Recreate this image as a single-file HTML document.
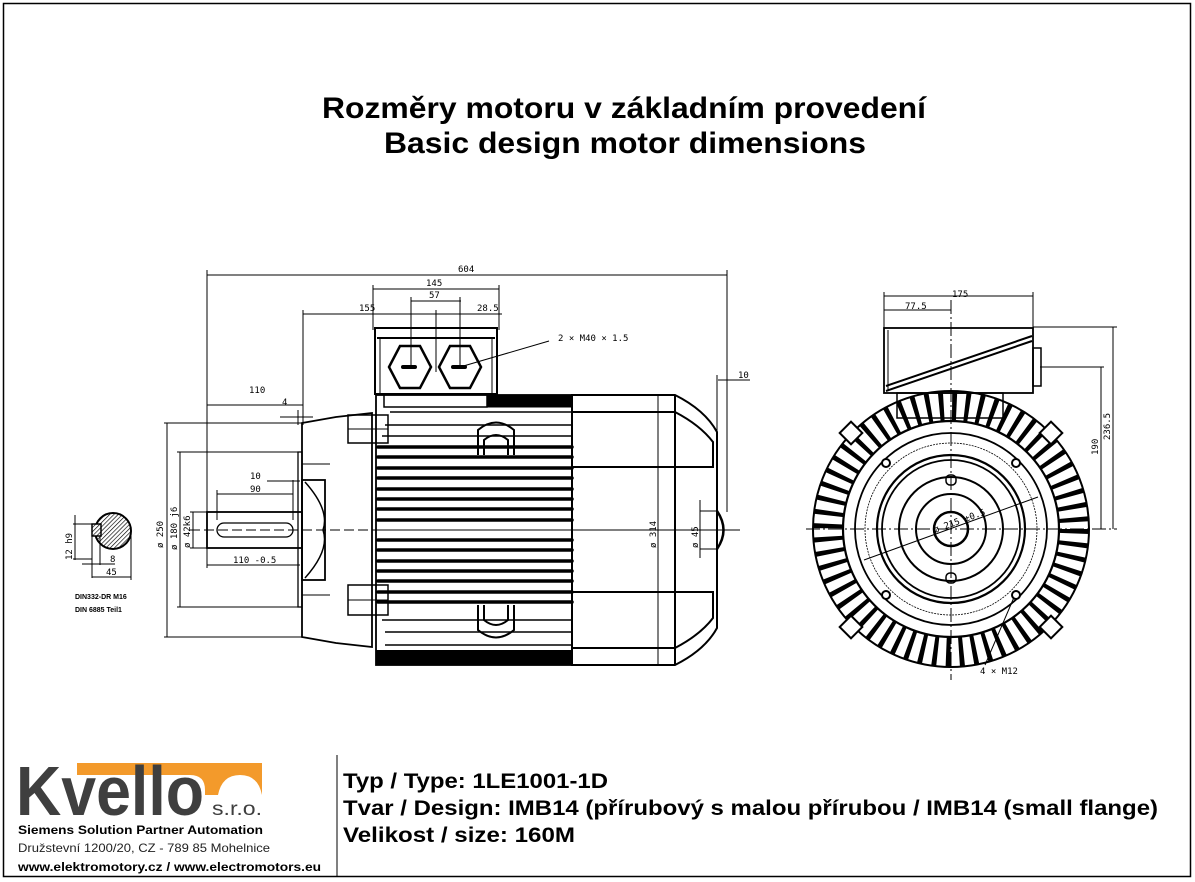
<!DOCTYPE html>
<html><head><meta charset="utf-8"><style>
html,body{margin:0;padding:0;background:#fff;}
svg{display:block;}
text{font-family:"Liberation Sans",sans-serif;}
.d{font-family:"DejaVu Sans Mono","Liberation Mono",monospace;font-size:9px;}
</style></head><body>
<svg width="1195" height="882" viewBox="0 0 1195 882" xmlns="http://www.w3.org/2000/svg">
<rect x="3.5" y="3.5" width="1187" height="873" fill="none" stroke="#000" stroke-width="1.5"/>
<text x="322" y="118" font-size="30" font-weight="bold" textLength="604" lengthAdjust="spacingAndGlyphs">Rozměry motoru v základním provedení</text>
<text x="384" y="153" font-size="30" font-weight="bold" textLength="482" lengthAdjust="spacingAndGlyphs">Basic design motor dimensions</text>

<g stroke="#000" fill="none" stroke-width="1">
<line x1="207" y1="275" x2="727" y2="275"/><line x1="207" y1="270" x2="207" y2="515"/><line x1="727" y1="270" x2="727" y2="512"/>
<line x1="373" y1="289" x2="499" y2="289"/><line x1="373" y1="285" x2="373" y2="330"/><line x1="499" y1="285" x2="499" y2="330"/>
<line x1="411" y1="301" x2="461" y2="301"/><line x1="411" y1="297" x2="411" y2="367"/><line x1="460" y1="297" x2="460" y2="367"/>
<line x1="303" y1="314" x2="502" y2="314"/><line x1="303" y1="310" x2="303" y2="425"/><line x1="436" y1="310" x2="436" y2="372"/>
<line x1="207" y1="405" x2="303" y2="405"/>
<line x1="280" y1="417" x2="313" y2="417"/><line x1="298" y1="410" x2="298" y2="425"/>
<line x1="718" y1="380" x2="750" y2="380"/><line x1="717" y1="375" x2="717" y2="530"/>
<line x1="460" y1="367" x2="549" y2="341"/>
<line x1="167" y1="423" x2="167" y2="637"/><line x1="164" y1="423" x2="302" y2="423"/><line x1="164" y1="637" x2="302" y2="637"/>
<line x1="180" y1="452" x2="180" y2="607"/><line x1="177" y1="452" x2="300" y2="452"/><line x1="177" y1="607" x2="300" y2="607"/>
<line x1="193" y1="512" x2="193" y2="548"/><line x1="190" y1="512" x2="207" y2="512"/><line x1="190" y1="548" x2="207" y2="548"/>
<line x1="217" y1="494" x2="293" y2="494"/><line x1="217" y1="490" x2="217" y2="520"/><line x1="293" y1="480" x2="293" y2="520"/>
<line x1="267" y1="481" x2="300" y2="481"/>
<line x1="207" y1="565" x2="300" y2="565"/><line x1="207" y1="548" x2="207" y2="568"/>
<line x1="190" y1="530" x2="372" y2="530" stroke-dasharray="10,4"/>
<line x1="372" y1="530" x2="740" y2="530"/>
<rect x="207" y="512" width="95" height="36" stroke-width="1.8"/>
<rect x="217" y="523" width="76" height="14" rx="7" stroke-width="1.3"/>
<path d="M302 423 L336 417 L372 413 L372 647 L336 643 L302 637 Z" stroke-width="1.8"/>
<rect x="298" y="452" width="4" height="155" stroke-width="1.3"/>
<rect x="302" y="480" width="23" height="100" stroke-width="1.8"/>
<path d="M305 482 Q330 510 323 530 Q330 550 305 578" stroke-width="1.5"/>
<line x1="302" y1="464" x2="330" y2="464"/><line x1="302" y1="595" x2="330" y2="595"/>
<rect x="348" y="415" width="40" height="28" stroke-width="1.5"/><line x1="348" y1="429" x2="388" y2="429"/>
<rect x="348" y="585" width="40" height="30" stroke-width="1.5"/><line x1="348" y1="600" x2="388" y2="600"/>
<rect x="376" y="395" width="196" height="270" stroke-width="1.8"/>
<rect x="487" y="395" width="85" height="12" fill="#000"/>
<rect x="384" y="394" width="103" height="13" stroke-width="1.5"/>
</g>
<g stroke="#000" stroke-width="3.5" stroke-linecap="round">
<line x1="378" y1="447" x2="572" y2="447"/><line x1="378" y1="457" x2="572" y2="457"/><line x1="378" y1="468" x2="572" y2="468"/>
<line x1="378" y1="478" x2="572" y2="478"/><line x1="378" y1="489" x2="572" y2="489"/><line x1="378" y1="499" x2="572" y2="499"/>
<line x1="378" y1="509" x2="572" y2="509"/><line x1="378" y1="520" x2="572" y2="520"/><line x1="378" y1="540" x2="572" y2="540"/>
<line x1="378" y1="550" x2="572" y2="550"/><line x1="378" y1="561" x2="572" y2="561"/><line x1="378" y1="571" x2="572" y2="571"/>
<line x1="378" y1="581" x2="572" y2="581"/><line x1="378" y1="592" x2="572" y2="592"/><line x1="378" y1="602" x2="572" y2="602"/>
</g>
<g stroke="#000" stroke-width="1.5">
<line x1="390" y1="412" x2="572" y2="412"/><line x1="385" y1="425" x2="572" y2="425"/><line x1="382" y1="436" x2="572" y2="436"/>
<line x1="382" y1="620" x2="572" y2="620"/><line x1="385" y1="632" x2="572" y2="632"/><line x1="385" y1="645" x2="572" y2="645"/>
</g>
<rect x="376" y="650" width="196" height="15" fill="#000"/>
<g stroke="#000" fill="none" stroke-width="2">
<path d="M478 455 V430 Q496 415 514 430 V455"/><path d="M484 455 V440 Q496 430 508 440 V455"/>
<path d="M478 605 V630 Q496 645 514 630 V605"/><path d="M484 605 V620 Q496 630 508 620 V605"/>
<path d="M572 395 H675 Q705 410 717 432 V628 Q705 650 675 665 H572 Z"/>
<line x1="675" y1="395" x2="675" y2="665"/>
<path d="M572 412 H675 Q700 425 713 442 V467 H572"/>
<path d="M572 648 H675 Q700 635 713 618 V592 H572"/>
<path d="M717 511 Q730 530 717 549" stroke-width="2.5"/>
<line x1="658" y1="395" x2="658" y2="665" stroke-width="1"/>
<line x1="700" y1="500" x2="700" y2="558" stroke-width="1"/><line x1="700" y1="511" x2="717" y2="511" stroke-width="1"/><line x1="700" y1="549" x2="717" y2="549" stroke-width="1"/>
<rect x="375" y="328" width="122" height="66"/>
<line x1="377" y1="338" x2="495" y2="338"/>
<line x1="380" y1="338" x2="380" y2="394" stroke-width="1"/><line x1="492" y1="338" x2="492" y2="394" stroke-width="1"/>
<path d="M400 346 L420 346 L431 367 L420 388 L400 388 L389 367 Z" stroke-width="2.5"/>
<path d="M450 346 L470 346 L481 367 L470 388 L450 388 L439 367 Z" stroke-width="2.5"/>
</g>
<rect x="401" y="365" width="16" height="4" rx="2"/><rect x="451" y="365" width="16" height="4" rx="2"/>

<g>
<text x="458" y="272" class="d">604</text>
<text x="426" y="286" class="d">145</text>
<text x="429" y="298" class="d">57</text>
<text x="359" y="311" class="d">155</text>
<text x="477" y="311" class="d">28.5</text>
<text x="249" y="393" class="d">110</text>
<text x="282" y="405" class="d">4</text>
<text x="738" y="378" class="d">10</text>
<text x="558" y="341" class="d">2 × M40 × 1.5</text>
<text x="250" y="479" class="d">10</text>
<text x="250" y="492" class="d">90</text>
<text x="233" y="563" class="d">110 -0.5</text>
<text x="163" y="548" class="d" transform="rotate(-90 163 548)">ø 250</text>
<text x="177" y="550" class="d" transform="rotate(-90 177 550)">ø 180 j6</text>
<text x="190" y="548" class="d" transform="rotate(-90 190 548)">ø 42k6</text>
<text x="656" y="548" class="d" transform="rotate(-90 656 548)">ø 314</text>
<text x="698" y="548" class="d" transform="rotate(-90 698 548)">ø 45</text>
</g>

<defs><pattern id="h" width="3" height="3" patternUnits="userSpaceOnUse" patternTransform="rotate(45)"><rect width="3" height="3" fill="#fff"/><line x1="0" y1="0" x2="0" y2="3" stroke="#000" stroke-width="1.3"/></pattern></defs>
<circle cx="113" cy="531" r="18" fill="url(#h)" stroke="#000" stroke-width="2"/>
<rect x="92" y="524" width="9" height="12" fill="url(#h)" stroke="#000" stroke-width="1.5"/>
<g stroke="#000" stroke-width="1">
<line x1="75" y1="515" x2="75" y2="560"/><line x1="73" y1="524" x2="92" y2="524"/><line x1="73" y1="559" x2="92" y2="559"/>
<line x1="92" y1="536" x2="92" y2="578"/><line x1="100" y1="536" x2="100" y2="565"/><line x1="82" y1="564" x2="115" y2="564"/>
<line x1="92" y1="577" x2="131" y2="577"/><line x1="131" y1="531" x2="131" y2="580"/>
</g>
<text x="72" y="560" class="d" transform="rotate(-90 72 560)">12 h9</text>
<text x="110" y="562" class="d">8</text>
<text x="106" y="575" class="d">45</text>
<text x="75" y="599" font-size="7" font-weight="bold" font-family="Liberation Mono">DIN332-DR M16</text>
<text x="75" y="612" font-size="7" font-weight="bold" font-family="Liberation Mono">DIN 6885 Teil1</text>

<g stroke="#000" fill="none">
<line x1="884" y1="296" x2="1033" y2="296" stroke-width="1"/><line x1="884" y1="292" x2="884" y2="330" stroke-width="1"/><line x1="1033" y1="292" x2="1033" y2="330" stroke-width="1"/>
<line x1="884" y1="310" x2="951" y2="310" stroke-width="1"/>
<line x1="1033" y1="327" x2="1117" y2="327" stroke-width="1"/><line x1="1113" y1="327" x2="1113" y2="529" stroke-width="1"/>
<line x1="1040" y1="367" x2="1104" y2="367" stroke-width="1"/><line x1="1101" y1="367" x2="1101" y2="529" stroke-width="1"/>
<line x1="806" y1="529" x2="1117" y2="529" stroke-width="1" stroke-dasharray="14,3,2,3"/>
<line x1="951" y1="300" x2="951" y2="680" stroke-width="1" stroke-dasharray="14,3,2,3"/>
<rect x="884" y="328" width="149" height="65" stroke-width="1.8"/>
<line x1="888" y1="330" x2="888" y2="391" stroke-width="1"/>
<path d="M886 386 L1032 336 M886 391 L1032 341" stroke-width="2"/>
<rect x="1033" y="348" width="8" height="38" stroke-width="1.5"/>
<rect x="897" y="393" width="106" height="25" stroke-width="1.5"/>
<circle cx="951" cy="529" r="123" stroke-width="30" stroke-dasharray="4.5,8.4"/>
<circle cx="951" cy="529" r="138" stroke-width="2"/>
<circle cx="951" cy="529" r="108" stroke-width="2.2"/>
<circle cx="951" cy="529" r="96" stroke-width="1.8"/>
<circle cx="951" cy="529" r="86" stroke-width="0.8" stroke-dasharray="2,1"/>
<circle cx="951" cy="529" r="74" stroke-width="2.2"/>
<circle cx="951" cy="529" r="69" stroke-width="1.8"/>
<circle cx="951" cy="529" r="52" stroke-width="2"/>
<circle cx="951" cy="529" r="35" stroke-width="2"/>
<circle cx="951" cy="529" r="17" stroke-width="2.5"/>
<line x1="864" y1="560" x2="1038" y2="497" stroke-width="1"/>
<line x1="1015" y1="595" x2="985" y2="665" stroke-width="1"/>
<rect x="946" y="475" width="10" height="10" rx="4" stroke-width="1.5"/><rect x="946" y="573" width="10" height="10" rx="4" stroke-width="1.5"/>
</g>
<g fill="#fff" stroke="#000" stroke-width="2">
<circle cx="886" cy="463" r="4"/><circle cx="1016" cy="463" r="4"/><circle cx="886" cy="595" r="4"/><circle cx="1016" cy="595" r="4"/>
<rect x="843" y="425" width="16" height="16" transform="rotate(45 851 433)"/>
<rect x="1043" y="425" width="16" height="16" transform="rotate(45 1051 433)"/>
<rect x="843" y="619" width="16" height="16" transform="rotate(45 851 627)"/>
<rect x="1043" y="619" width="16" height="16" transform="rotate(45 1051 627)"/>
</g>
<text x="905" y="309" class="d">77.5</text>
<text x="952" y="297" class="d">175</text>
<text x="1110" y="440" class="d" transform="rotate(-90 1110 440)">236.5</text>
<text x="1098" y="455" class="d" transform="rotate(-90 1098 455)">190</text>
<text x="980" y="674" class="d">4 × M12</text>
<text x="935" y="533" class="d" transform="rotate(-20 935 533)">ø 215 ±0.5</text>

<path d="M77 763 H262 V795 Q258 775 240 775 Q222 775 218 795 H205 V790 Q205 775 190 775 H77 Z" fill="#f39a2b"/>
<text x="16" y="815" font-size="70" font-weight="bold" fill="#3f3f3f" textLength="188" lengthAdjust="spacingAndGlyphs">Kvello</text>
<text x="212" y="815" font-size="19" fill="#3f3f3f" textLength="50" lengthAdjust="spacingAndGlyphs">s.r.o.</text>
<text x="18" y="834" font-size="12" font-weight="bold" textLength="245" lengthAdjust="spacingAndGlyphs">Siemens Solution Partner Automation</text>
<text x="18" y="852" font-size="12" fill="#222" textLength="252" lengthAdjust="spacingAndGlyphs">Družstevní 1200/20, CZ - 789 85 Mohelnice</text>
<text x="18" y="871" font-size="12" font-weight="bold" textLength="303" lengthAdjust="spacingAndGlyphs">www.elektromotory.cz / www.electromotors.eu</text>
<line x1="337" y1="755" x2="337" y2="877" stroke="#000" stroke-width="1"/>

<text x="343" y="788" font-size="21" font-weight="bold" textLength="265" lengthAdjust="spacingAndGlyphs">Typ / Type: 1LE1001-1D</text>
<text x="343" y="815" font-size="21" font-weight="bold" textLength="815" lengthAdjust="spacingAndGlyphs">Tvar / Design: IMB14 (přírubový s malou přírubou / IMB14 (small flange)</text>
<text x="343" y="842" font-size="21" font-weight="bold" textLength="232" lengthAdjust="spacingAndGlyphs">Velikost / size: 160M</text>
</svg>
</body></html>
